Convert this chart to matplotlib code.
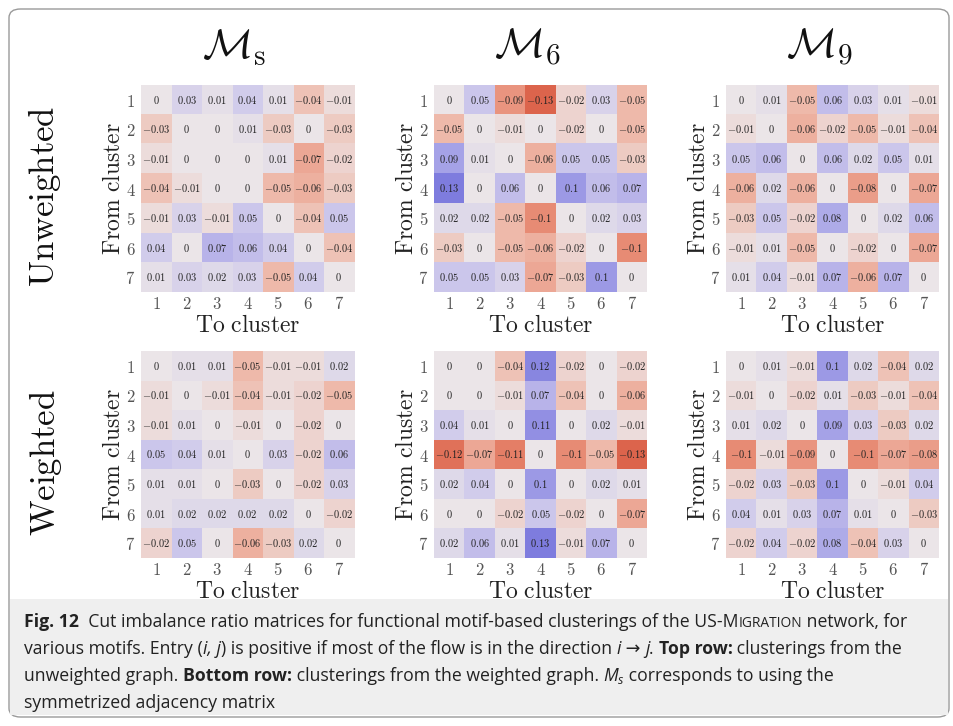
import numpy as np
import matplotlib
matplotlib.use("Agg")
import matplotlib.pyplot as plt
from matplotlib.colors import LinearSegmentedColormap
from matplotlib.patches import FancyBboxPatch, Rectangle

plt.rcParams['mathtext.fontset'] = 'cm'

W, H = 954, 726

clusters = [1, 2, 3, 4, 5, 6, 7]
motif_titles = [r"$\mathcal{M}_\mathrm{s}$", r"$\mathcal{M}_6$", r"$\mathcal{M}_9$"]
row_titles = ["Unweighted", "Weighted"]

# cut imbalance ratios, unweighted graph
ms_unweighted = [
    [0, 0.03, 0.01, 0.04, 0.01, -0.04, -0.01],
    [-0.03, 0, 0, 0.01, -0.03, 0, -0.03],
    [-0.01, 0, 0, 0, 0.01, -0.07, -0.02],
    [-0.04, -0.01, 0, 0, -0.05, -0.06, -0.03],
    [-0.01, 0.03, -0.01, 0.05, 0, -0.04, 0.05],
    [0.04, 0, 0.07, 0.06, 0.04, 0, -0.04],
    [0.01, 0.03, 0.02, 0.03, -0.05, 0.04, 0],
]
m6_unweighted = [
    [0, 0.05, -0.09, -0.13, -0.02, 0.03, -0.05],
    [-0.05, 0, -0.01, 0, -0.02, 0, -0.05],
    [0.09, 0.01, 0, -0.06, 0.05, 0.05, -0.03],
    [0.13, 0, 0.06, 0, 0.1, 0.06, 0.07],
    [0.02, 0.02, -0.05, -0.1, 0, 0.02, 0.03],
    [-0.03, 0, -0.05, -0.06, -0.02, 0, -0.1],
    [0.05, 0.05, 0.03, -0.07, -0.03, 0.1, 0],
]
m9_unweighted = [
    [0, 0.01, -0.05, 0.06, 0.03, 0.01, -0.01],
    [-0.01, 0, -0.06, -0.02, -0.05, -0.01, -0.04],
    [0.05, 0.06, 0, 0.06, 0.02, 0.05, 0.01],
    [-0.06, 0.02, -0.06, 0, -0.08, 0, -0.07],
    [-0.03, 0.05, -0.02, 0.08, 0, 0.02, 0.06],
    [-0.01, 0.01, -0.05, 0, -0.02, 0, -0.07],
    [0.01, 0.04, -0.01, 0.07, -0.06, 0.07, 0],
]

# cut imbalance ratios, weighted graph
ms_weighted = [
    [0, 0.01, 0.01, -0.05, -0.01, -0.01, 0.02],
    [-0.01, 0, -0.01, -0.04, -0.01, -0.02, -0.05],
    [-0.01, 0.01, 0, -0.01, 0, -0.02, 0],
    [0.05, 0.04, 0.01, 0, 0.03, -0.02, 0.06],
    [0.01, 0.01, 0, -0.03, 0, -0.02, 0.03],
    [0.01, 0.02, 0.02, 0.02, 0.02, 0, -0.02],
    [-0.02, 0.05, 0, -0.06, -0.03, 0.02, 0],
]
m6_weighted = [
    [0, 0, -0.04, 0.12, -0.02, 0, -0.02],
    [0, 0, -0.01, 0.07, -0.04, 0, -0.06],
    [0.04, 0.01, 0, 0.11, 0, 0.02, -0.01],
    [-0.12, -0.07, -0.11, 0, -0.1, -0.05, -0.13],
    [0.02, 0.04, 0, 0.1, 0, 0.02, 0.01],
    [0, 0, -0.02, 0.05, -0.02, 0, -0.07],
    [0.02, 0.06, 0.01, 0.13, -0.01, 0.07, 0],
]
m9_weighted = [
    [0, 0.01, -0.01, 0.1, 0.02, -0.04, 0.02],
    [-0.01, 0, -0.02, 0.01, -0.03, -0.01, -0.04],
    [0.01, 0.02, 0, 0.09, 0.03, -0.03, 0.02],
    [-0.1, -0.01, -0.09, 0, -0.1, -0.07, -0.08],
    [-0.02, 0.03, -0.03, 0.1, 0, -0.01, 0.04],
    [0.04, 0.01, 0.03, 0.07, 0.01, 0, -0.03],
    [-0.02, 0.04, -0.02, 0.08, -0.04, 0.03, 0],
]

matrices = [[ms_unweighted, m6_unweighted, m9_unweighted],
            [ms_weighted, m6_weighted, m9_weighted]]

# red (negative) -> neutral -> blue (positive)
cmap = LinearSegmentedColormap.from_list("imb", [
    (0.0, "#d9583f"), (0.143, "#e88c75"), (0.32, "#efb9aa"), (0.5, "#ece6e8"),
    (0.68, "#cbc6ec"), (0.857, "#9d9ae6"), (1.0, "#7473dc")])
vlim = 0.14

fig = plt.figure(figsize=(W / 100, H / 100), dpi=100)

# outer frame and caption background
fig.patches.append(FancyBboxPatch((9 / W, 1 - 717 / H), 940 / W, 708 / H,
                                  boxstyle="round,pad=0,rounding_size=0.012",
                                  transform=fig.transFigure, fc="none",
                                  ec="#9a9a9a", lw=1.0, zorder=-2))
fig.patches.append(Rectangle((10 / W, 1 - 715 / H), 938 / W, 116 / H,
                             transform=fig.transFigure, fc="#efefef", ec="none",
                             zorder=-1))

x_left = [141, 434, 726]
y_top = [85, 351]
aw, ah = 213, 207

for r in range(2):
    for c in range(3):
        ax = fig.add_axes([x_left[c] / W, 1 - (y_top[r] + ah) / H, aw / W, ah / H])
        data = np.array(matrices[r][c])
        ax.imshow(data, cmap=cmap, vmin=-vlim, vmax=vlim, aspect="auto")
        for i in range(7):
            for j in range(7):
                ax.text(j, i, "$%g$" % data[i, j], ha="center", va="center",
                        fontsize=7.5, color="#222222")
        ax.set_xticks(range(7))
        ax.set_yticks(range(7))
        ax.set_xticklabels(["$%d$" % k for k in clusters], fontsize=12, color="#555555")
        ax.set_yticklabels(["$%d$" % k for k in clusters], fontsize=12, color="#555555")
        ax.tick_params(axis="x", length=0, pad=2)
        ax.tick_params(axis="y", length=0, pad=4)
        for s in ax.spines.values():
            s.set_visible(False)
        ax.set_xlabel(r"$\mathrm{To\ cluster}$", fontsize=17, labelpad=0, color="#222222")
        ax.set_ylabel(r"$\mathrm{From\ cluster}$", fontsize=17, labelpad=0, color="#222222")
        if r == 0:
            fig.text((x_left[c] + aw / 2 - 13) / W, 1 - 47 / H, motif_titles[c],
                     ha="center", va="center", fontsize=30, color="#111111")

for r in range(2):
    fig.text(45 / W, 1 - (y_top[r] + ah / 2 + 8) / H, r"$\mathrm{%s}$" % row_titles[r],
             rotation=90, ha="center", va="center", fontsize=25, color="#111111")

# caption
renderer = fig.canvas.get_renderer()
cap_size = 12.7
cap_font = "Open Sans"


def text_runs(x, y, runs):
    for s, kw in runs:
        t = fig.text(x / W, 1 - (y - kw.get("dy", 0)) / H, s, fontsize=kw.get("size", cap_size),
                     fontweight=kw.get("weight", "normal"), fontstyle=kw.get("style", "normal"),
                     family=[cap_font, "DejaVu Sans"], color="#222222", va="baseline")
        x += t.get_window_extent(renderer).width


N = {}
B = {"weight": "bold"}
I = {"style": "italic"}
SC = {"size": cap_size * 0.78}
text_runs(24, 627, [("Fig. 12", B),
                    ("  Cut imbalance ratio matrices for functional motif-based clusterings of the US-M", N),
                    ("IGRATION", SC), (" network, for", N)])
text_runs(24, 654, [("various motifs. Entry (", N), ("i, j", I),
                    (") is positive if most of the flow is in the direction ", N), ("i", I),
                    (" \u2192 ", N), ("j", I), (". ", N), ("Top row:", B),
                    (" clusterings from the", N)])
text_runs(24, 681, [("unweighted graph. ", N), ("Bottom row:", B),
                    (" clusterings from the weighted graph. ", N), ("M", I),
                    ("s", {"style": "italic", "size": cap_size * 0.7, "dy": -3}),
                    (" corresponds to using the", N)])
text_runs(24, 708, [("symmetrized adjacency matrix", N)])

fig.savefig("out.png", dpi=100)
